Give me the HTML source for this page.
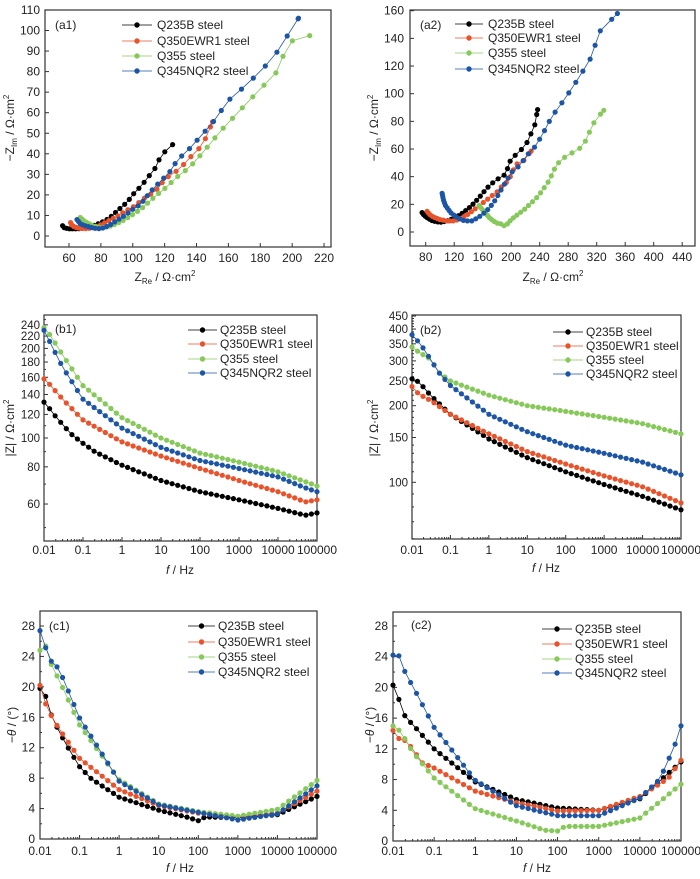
<!DOCTYPE html>
<html><head><meta charset="utf-8">
<style>
html,body{margin:0;padding:0;background:#fff;}
svg{display:block;font-family:"Liberation Sans",Arial,sans-serif;}
</style></head>
<body>
<svg id="s" width="700" height="879" viewBox="0 0 700 879" xmlns="http://www.w3.org/2000/svg"></svg>
<script>
var S=document.getElementById('s');var out='';
var COL=['#000000','#e8532b','#86c95a','#1d55a6'];
var NAMES=['Q235B steel','Q350EWR1 steel','Q355 steel','Q345NQR2 steel'];
function txt(x,y,t,o){o=o||{};out+='<text x="'+x+'" y="'+y+'" font-size="'+(o.fs||12)+'" text-anchor="'+(o.a||'start')+'"'+(o.tr?' transform="'+o.tr+'"':'')+' fill="#222">'+t+'</text>';}
function line(x1,y1,x2,y2,c,w){out+='<line x1="'+x1+'" y1="'+y1+'" x2="'+x2+'" y2="'+y2+'" stroke="'+(c||'#333')+'" stroke-width="'+(w||1)+'"/>';}
function series(pts,c,r){var d=pts.map(function(p,i){return (i?'L':'M')+p[0].toFixed(1)+' '+p[1].toFixed(1)}).join('');
out+='<path d="'+d+'" fill="none" stroke="'+c+'" stroke-width="0.8"/>';
pts.forEach(function(p){out+='<circle cx="'+p[0].toFixed(1)+'" cy="'+p[1].toFixed(1)+'" r="'+r+'" fill="'+c+'"/>';});}
function legend(lx1,lx2,tx,ys){for(var i=0;i<4;i++){line(lx1,ys[i]-4,lx2,ys[i]-4,COL[i],0.8);out+='<circle cx="'+((lx1+lx2)/2)+'" cy="'+(ys[i]-4)+'" r="2.7" fill="'+COL[i]+'"/>';txt(tx,ys[i],NAMES[i]);}}
function box(L,R,T,B){out+='<rect x="'+L+'" y="'+T+'" width="'+(R-L)+'" height="'+(B-T)+'" fill="none" stroke="#333" stroke-width="1.2"/>';}
// sample a polyline with growing spacing
function walk(anch,fx,fy,s0,k){var P=anch.map(function(a){return [fx(a[0]),fy(a[1])]});var res=[P[0]];var acc=0,need=s0;
for(var i=1;i<P.length;i++){var a=P[i-1],b=P[i];var L=Math.hypot(b[0]-a[0],b[1]-a[1]);var t=0;
while(L-t>=need){t+=need;acc+=need;res.push([a[0]+(b[0]-a[0])*t/L,a[1]+(b[1]-a[1])*t/L]);need=s0+k*acc;}
need-=(L-t);acc+=(L-t);}
res.push(P[P.length-1]);return res;}
// interpolate vs log f
function fser(anch,fx,fy,logy){var pts=[];for(var i=0;i<=49;i++){var lf=-2+7*i/49;var j=0;while(j<anch.length-2&&Math.log10(anch[j+1][0])<lf)j++;
var x0=Math.log10(anch[j][0]),x1=Math.log10(anch[j+1][0]);var t=(lf-x0)/(x1-x0);var y0=anch[j][1],y1=anch[j+1][1];
var v=logy?Math.pow(10,Math.log10(y0)+t*(Math.log10(y1)-Math.log10(y0))):y0+t*(y1-y0);pts.push([fx(lf),fy(v)]);}return pts;}

// ===== a1 =====
(function(){var L=45,R=331,T=10,B=247;var fx=function(v){return 69+(v-60)*1.594},fy=function(v){return 236-v*2.055};
box(L,R,T,B);
for(var v=0;v<=110;v+=10){var y=fy(v);line(L,y,L+4,y);txt(L-5,y+4,v,{a:'end'});}
for(var v=60;v<=220;v+=20){var x=fx(v);line(x,B,x,B-4);txt(x,B+15,v,{a:'middle'});}
txt(165,281,'Z<tspan font-size="8" dy="3">Re</tspan><tspan dy="-3"> / Ω·cm</tspan><tspan font-size="8" dy="-5">2</tspan>',{a:'middle'});
txt(14,128,'−Z<tspan font-size="8" dy="3">Im</tspan><tspan dy="-3"> / Ω·cm</tspan><tspan font-size="8" dy="-5">2</tspan>',{a:'middle',tr:'rotate(-90 14 128)'});
txt(55,29,'(a1)');
var D=[
[[56,5],[57,4],[60,3.5],[65,3.5],[70,4],[75,5],[80,6.5],[85,8.5],[90,12],[95,15.5],[98,18],[102,22],[105,24],[109,28],[114,33],[118,39.5],[125,44.5]],
[[61,6.5],[62,5],[65,4],[70,3.5],[75,4],[80,5.5],[85,7.5],[90,9.5],[95,12],[100,14],[105,17],[110,20],[113,21],[117,24],[120,28],[125,30],[131,34],[135,37.5],[144,44.5],[150,55.5]],
[[67,9],[70,7],[75,5],[80,4],[85,4.5],[90,6],[95,8],[100,10.5],[105,13],[110,16.5],[115,20],[120,23],[124,26],[129,29.5],[135,33],[141,38],[147,43.5],[155,51],[164,58.5],[175,67.5],[190,79.5],[198,94.5],[211,97.5]],
[[65,8],[67,6],[70,5],[75,4],[78,3.5],[82,4],[86,5.5],[90,7.5],[95,10],[100,13],[105,15.5],[110,20.5],[114,24],[118,27],[123,31],[128,37],[135,42],[142,48],[151,56],[160,66],[172,74],[188,86.5],[204,106]]];
for(var i=0;i<4;i++)series(walk(D[i],fx,fy,2.5,0.06),COL[i],2.6);
legend(122,152,157,[29,45,60,75]);
})();
// ===== a2 =====
(function(){var L=410,R=695,T=10,B=246;var fx=function(v){return 425.7+(v-80)*0.7125},fy=function(v){return 232-v*1.383};
box(L,R,T,B);
for(var v=0;v<=160;v+=20){var y=fy(v);line(L,y,L+4,y);txt(L-6,y+4,v,{a:'end'});}
for(var v=80;v<=440;v+=40){var x=fx(v);line(x,B,x,B-4);txt(x,B+15,v,{a:'middle'});}
txt(553,281,'Z<tspan font-size="8" dy="3">Re</tspan><tspan dy="-3"> / Ω·cm</tspan><tspan font-size="8" dy="-5">2</tspan>',{a:'middle'});
txt(378,128,'−Z<tspan font-size="8" dy="3">Im</tspan><tspan dy="-3"> / Ω·cm</tspan><tspan font-size="8" dy="-5">2</tspan>',{a:'middle',tr:'rotate(-90 378 128)'});
txt(420,29,'(a2)');
var D=[
[[75,14],[78,12],[83,10],[90,8],[100,7],[110,8],[120,10],[130,13],[140,17],[150,22],[160,28],[170,34],[180,38],[190,41],[195,46],[200,53.5],[210,57],[222,64.5],[233,77],[237,88.5]],
[[82,15],[85,13],[90,11],[100,9],[110,8],[120,8],[130,10],[140,13],[150,17],[160,21],[170,25],[180,29],[187,33],[192,35],[200,41],[206,49],[215,50],[228,58.5]],
[[155,19],[160,16],[165,13],[170,10],[175,8],[180,6.5],[185,6],[190,4.5],[195,6],[200,9],[210,13],[220,17],[230,22],[238,26],[245,31],[253,37],[262,47],[270,52.5],[301,62],[310,72.5],[318,81],[330,88]],
[[103,28],[105,23],[108,19],[115,14],[125,10],[135,8],[145,8],[155,11],[165,15],[175,21],[183,28],[192,36],[202,44],[212,48],[222,55.5],[233,61.5],[244,70.5],[257,83.5],[270,92.5],[288,106],[310,124],[325,145.5],[349,158]]];
for(var i=0;i<4;i++)series(walk(D[i],fx,fy,2.3,0.05),COL[i],2.6);
legend(455,483,488,[28,42,57,73]);
})();
function logx(L,R,B,labY){var dw=(R-L)/7;var labs=['0.01','0.1','1','10','100','1000','10000','100000'];
for(var d=0;d<=7;d++){var x=L+d*dw;line(x,B,x,B-4);txt(x,labY,labs[d],{a:'middle'});
if(d<7)for(var m=2;m<10;m++){var xm=x+Math.log10(m)*dw;line(xm,B,xm,B-2);}}}
// ===== b1 =====
(function(){var L=44,R=317,T=315,B=541;var dw=(R-L)/7;var fx=function(lf){return L+(lf+2)*dw},fy=function(v){return 438-Math.log10(v/100)*297.6};
box(L,R,T,B);logx(L,R,B,554);
for(var v=50;v<=260;v+=10){var y=fy(v);if(y<T||y>B)continue;var maj=(v%20==0&&v>=60);line(L,y,L+(maj?4:2),y);if(maj)txt(L-4,y+4,v,{a:'end',fs:11.5});}
txt(180,574,'<tspan font-style="italic">f</tspan> / Hz',{a:'middle'});
txt(14,428,'|Z| / Ω·cm<tspan font-size="8" dy="-5">2</tspan>',{a:'middle',tr:'rotate(-90 14 428)'});
txt(55,333,'(b1)');
var D=[
[[0.01,132],[0.015,124],[0.02,118],[0.03,111],[0.05,103],[0.1,96],[0.2,90],[1,81],[10,72],[100,66],[1000,62],[1e4,58],[5e4,55],[1e5,56]],
[[0.01,158],[0.015,150],[0.03,135],[0.1,115],[1,97],[10,87],[100,79],[1000,72],[1e4,66],[5e4,61],[1e5,62]],
[[0.01,235],[0.015,220],[0.03,190],[0.1,150],[1,117],[10,100],[100,89],[1000,83],[1e4,77],[1e5,69]],
[[0.01,230],[0.015,207],[0.03,173],[0.1,135],[1,108],[10,93],[100,84],[1000,79],[1e4,74],[5e4,68],[1e5,66]]];
for(var i=0;i<4;i++)series(fser(D[i],fx,fy,true),COL[i],2.6);
legend(188,217,220,[334,348,363,377]);
})();
// ===== b2 =====
(function(){var L=412,R=681,T=315,B=539;var dw=(R-L)/7;var fx=function(lf){return L+(lf+2)*dw},fy=function(v){return 482.3-Math.log10(v/100)*254.5};
box(L,R,T,B);logx(L,R,B,554);
for(var v=60;v<=450;v+=10){var y=fy(v);if(y<T-1||y>B)continue;var maj=(v>=100&&v%50==0);line(L,y,L+(maj?4:2),y);if(maj)txt(L-4,y+4,v,{a:'end',fs:11.5});}
txt(546,572,'<tspan font-style="italic">f</tspan> / Hz',{a:'middle'});
txt(378,428,'|Z| / Ω·cm<tspan font-size="8" dy="-5">2</tspan>',{a:'middle',tr:'rotate(-90 378 428)'});
txt(420,334,'(b2)');
var D=[
[[0.01,255],[0.015,248],[0.03,220],[0.1,185],[1,148],[10,125],[100,110],[1000,98],[1e4,88],[1e5,78]],
[[0.01,238],[0.015,222],[0.03,210],[0.1,185],[1,155],[10,132],[100,118],[1000,106],[1e4,96],[1e5,83]],
[[0.01,340],[0.015,325],[0.03,305],[0.05,270],[0.1,250],[1,220],[10,200],[100,190],[1000,180],[1e4,170],[1e5,155]],
[[0.01,380],[0.015,355],[0.02,335],[0.05,270],[0.1,240],[1,185],[10,158],[100,140],[1000,130],[1e4,120],[1e5,107]]];
for(var i=0;i<4;i++)series(fser(D[i],fx,fy,true),COL[i],2.6);
legend(553,583,586,[336,350,364,378]);
})();
// ===== c1 =====
(function(){var L=40,R=317,T=611,B=839;var dw=(R-L)/7;var fx=function(lf){return L+(lf+2)*dw},fy=function(v){return 839-v*7.607};
box(L,R,T,B);logx(L,R,B,855);
for(var v=0;v<=28;v+=2){var y=fy(v);var maj=v%4==0;line(L,y,L+(maj?4:2),y);if(maj)txt(L-5,y+4,v,{a:'end'});}
txt(180,872,'<tspan font-style="italic">f</tspan> / Hz',{a:'middle'});
txt(16,725,'−<tspan font-style="italic">θ</tspan> / (°)',{a:'middle',tr:'rotate(-90 16 725)'});
txt(49,630,'(c1)');
var D=[
[[0.01,19.8],[0.015,18.5],[0.02,16],[0.03,14.2],[0.05,12.1],[0.1,9.5],[0.2,7.9],[1,5.5],[10,3.8],[50,2.9],[100,2.4],[150,2.9],[1000,2.8],[1e4,3.2],[1e5,5.6]],
[[0.01,20.2],[0.015,17.2],[0.03,14.5],[0.1,10.6],[1,6.5],[10,4.4],[100,3.4],[1000,2.9],[1e4,3.4],[1e5,6.3]],
[[0.01,24.8],[0.015,25.5],[0.02,22.6],[0.03,21],[0.1,15],[1,7.8],[10,4.6],[100,3.6],[1000,3],[1e4,3.9],[1e5,7.7]],
[[0.01,27.4],[0.015,24.6],[0.02,23.2],[0.03,22.4],[0.1,15.9],[1,7.6],[10,4.5],[100,3.5],[1000,2.5],[1e4,3.3],[1e5,7]]];
for(var i=0;i<4;i++)series(fser(D[i],fx,fy,false),COL[i],2.6);
legend(188,215,218,[630,646,661,676]);
})();
// ===== c2 =====
(function(){var L=393,R=681,T=612,B=841;var dw=(R-L)/7;var fx=function(lf){return L+(lf+2)*dw},fy=function(v){return 841-v*7.68};
box(L,R,T,B);logx(L,R,B,855);
for(var v=0;v<=28;v+=2){var y=fy(v);var maj=v%4==0;line(L,y,L+(maj?4:2),y);if(maj)txt(L-5,y+4,v,{a:'end'});}
txt(537,872,'<tspan font-style="italic">f</tspan> / Hz',{a:'middle'});
txt(374,725,'−<tspan font-style="italic">θ</tspan> / (°)',{a:'middle',tr:'rotate(-90 374 725)'});
txt(411,629,'(c2)');
var D=[
[[0.01,20.3],[0.015,18],[0.02,16.1],[0.03,15.2],[0.1,12],[1,7.7],[10,5.4],[100,4.3],[1000,4],[1e4,5.5],[1e5,10.3]],
[[0.01,14.4],[0.015,13.1],[0.02,13.1],[0.03,12],[0.05,10.2],[0.1,9.5],[1,6.5],[10,5],[100,3.9],[1000,4],[1e4,5.8],[5e4,8.2],[1e5,10.5]],
[[0.01,15],[0.015,14.3],[0.02,13.2],[0.03,11.6],[0.1,8.2],[1,4.2],[10,2.6],[50,1.4],[100,1.3],[150,1.9],[1000,1.9],[1e4,3],[1e5,7.4]],
[[0.01,24.2],[0.015,24.1],[0.02,21.8],[0.03,20.2],[0.1,14.8],[1,7.9],[10,4.6],[100,3.3],[1000,3.3],[1e4,5.6],[3e4,8],[5e4,10.6],[7e4,12.4],[1e5,15]]];
for(var i=0;i<4;i++)series(fser(D[i],fx,fy,false),COL[i],2.6);
legend(542,572,575,[633,648,663,677]);
})();
S.innerHTML=out;
</script>
</body></html>
